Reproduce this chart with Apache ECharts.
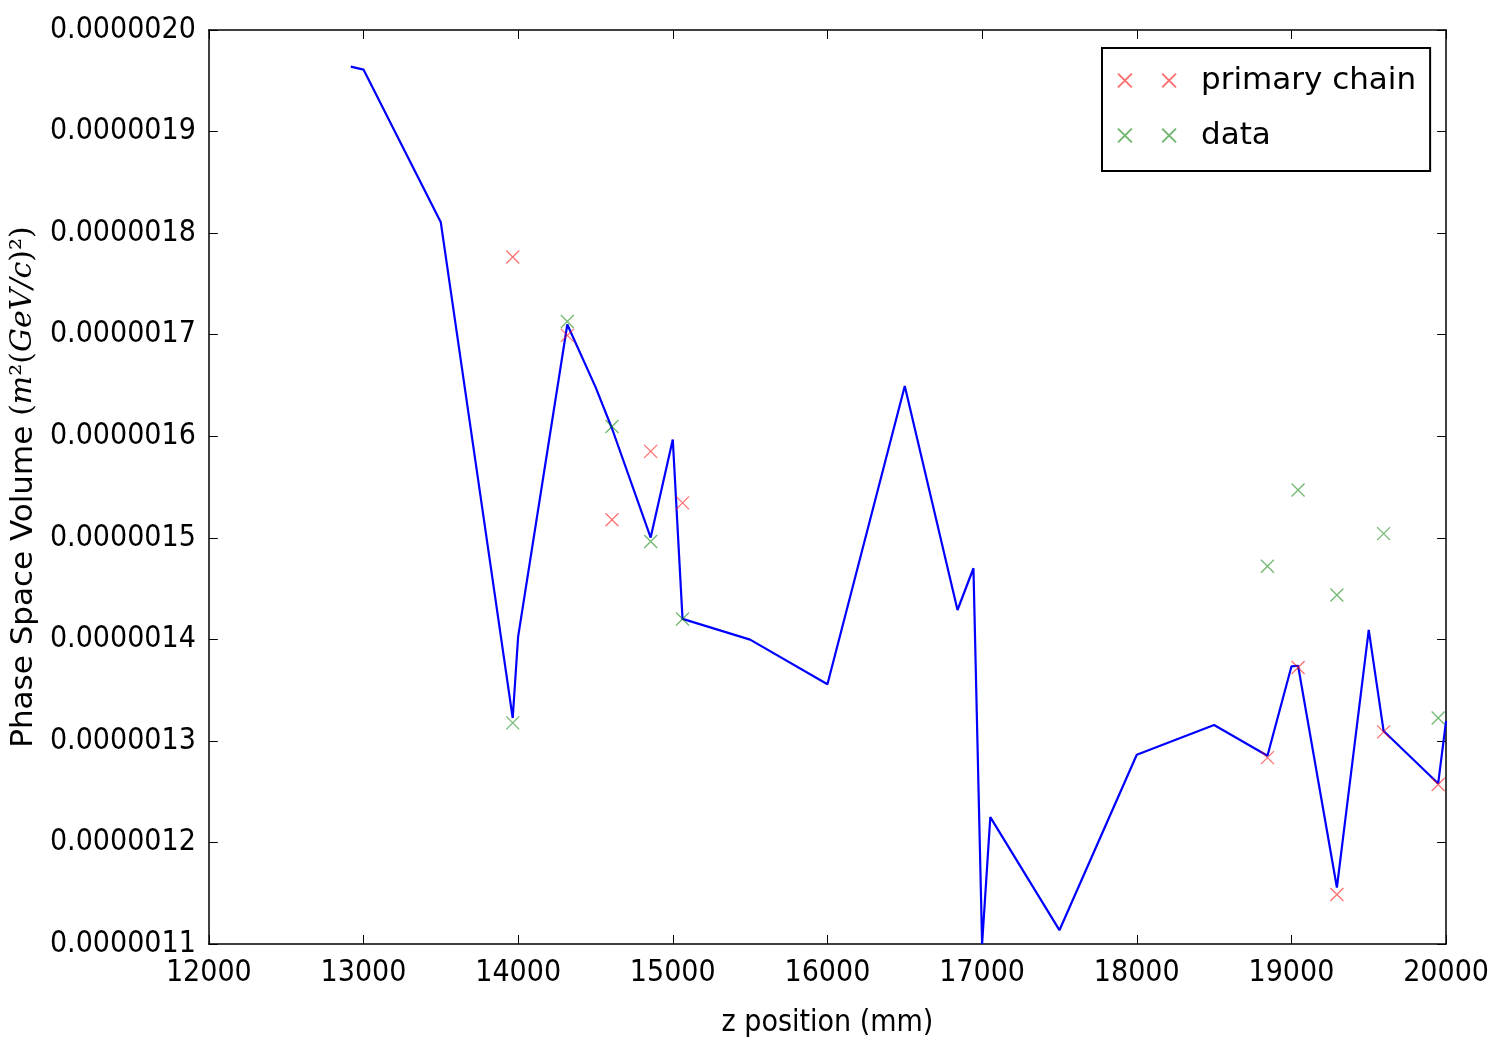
<!DOCTYPE html>
<html>
<head>
<meta charset="utf-8">
<title>Phase Space Volume vs z position</title>
<script src="https://cdn.jsdelivr.net/npm/echarts@6/dist/echarts.min.js"></script>
<style>
  html, body { margin: 0; padding: 0; background: #ffffff; }
  #chart { width: 1492px; height: 1043px; }
</style>
</head>
<body>
<div id="chart"></div>
<script>
// Tracked phase space volume along z (mm) -> m^2 (GeV/c)^2
const lineZ = [12918, 13000, 13500, 13965, 14000, 14318, 14500, 14607, 14857, 15000,
  15063, 15500, 16000, 16500, 16841, 16944, 17000, 17053, 17500, 18000,
  18500, 18845, 19000, 19043, 19294, 19500, 19596, 19949, 20000];
const lineVolume = [1.9639e-6, 1.9610e-6, 1.8106e-6, 1.3225e-6, 1.4026e-6, 1.7100e-6, 1.6486e-6, 1.6076e-6, 1.5002e-6, 1.5968e-6,
  1.4201e-6, 1.3997e-6, 1.3557e-6, 1.6495e-6, 1.4289e-6, 1.4700e-6, 1.1000e-6, 1.2249e-6, 1.1136e-6, 1.2864e-6,
  1.3157e-6, 1.2854e-6, 1.3733e-6, 1.3740e-6, 1.1556e-6, 1.4094e-6, 1.3098e-6, 1.2581e-6, 1.3196e-6];

// Measurement stations
const stationZ = [13965, 14318, 14607, 14857, 15063, 18845, 19043, 19294, 19596, 19949];
const primaryChainVolume = [1.7765e-6, 1.6993e-6, 1.5178e-6, 1.5851e-6, 1.5344e-6,
  1.2835e-6, 1.3723e-6, 1.1488e-6, 1.3089e-6, 1.2571e-6];
const dataVolume = [1.3177e-6, 1.7130e-6, 1.6095e-6, 1.4963e-6, 1.4201e-6,
  1.4719e-6, 1.5470e-6, 1.4436e-6, 1.5041e-6, 1.3225e-6];

const xTicks = { min: 12000, max: 20000, interval: 1000 };
const yTicks = { min: 0.0000011, max: 0.0000020, interval: 0.0000001 };

const seriesNames = ['primary chain', 'data'];

const crossSymbol = 'path://M0,0L10,10M10,0L0,10';
const doubleCross = 'path://M0,0L10,10M10,0L0,10M32,0L42,10M42,0L32,10';

const pair = (xs, ys) => xs.map((x, i) => [x, ys[i]]);

const narrowFamily = "'DejaVu Sans Condensed', 'Liberation Sans Narrow', 'Roboto Condensed', 'DejaVu Sans', sans-serif";
const tickFont = { fontFamily: narrowFamily, fontSize: 30, color: '#000' };
const frameLine = { show: true, lineStyle: { color: '#000', width: 1.5 } };
const innerTick = { show: true, inside: true, length: 9, lineStyle: { color: '#000', width: 1 } };

const chart = echarts.init(document.getElementById('chart'), null, { renderer: 'canvas' });
chart.setOption({
  backgroundColor: '#ffffff',
  animation: false,
  grid: { left: 202, right: 43, top: 30, bottom: 91, containLabel: false },
  legend: {
    data: seriesNames,
    orient: 'vertical',
    left: 1102,
    top: 48,
    padding: [17, 14, 20, 15],
    itemGap: 24,
    itemWidth: 58,
    itemHeight: 14,
    icon: doubleCross,
    backgroundColor: '#fff',
    borderColor: '#000',
    borderWidth: 2,
    borderRadius: 0,
    textStyle: { fontFamily: 'DejaVu Sans', fontSize: 31, color: '#000', padding: [0, 0, 0, 20] }
  },
  xAxis: [
    {
      type: 'value', position: 'bottom',
      min: xTicks.min, max: xTicks.max, interval: xTicks.interval,
      name: 'z position (mm)', nameLocation: 'middle', nameGap: 64,
      nameTextStyle: { fontFamily: narrowFamily, fontSize: 30, color: '#000' },
      axisLine: frameLine, axisTick: innerTick,
      axisLabel: Object.assign({ margin: 14, formatter: v => String(v) }, tickFont),
      splitLine: { show: false }
    },
    {
      type: 'value', position: 'top',
      min: xTicks.min, max: xTicks.max, interval: xTicks.interval,
      axisLine: frameLine, axisTick: innerTick,
      axisLabel: { show: false }, splitLine: { show: false }
    }
  ],
  yAxis: [
    {
      type: 'value', position: 'left',
      min: yTicks.min, max: yTicks.max, interval: yTicks.interval,
      name: '{t|Phase Space Volume }{p|(}{i|m}{p|²(}{i|GeV/c}{p|)²)}',
      nameLocation: 'middle', nameGap: 166, nameRotate: 90,
      nameTextStyle: {
        rich: {
          t: { fontFamily: 'DejaVu Sans', fontSize: 31, color: '#000' },
          p: { fontFamily: 'DejaVu Serif', fontSize: 30, color: '#000' },
          i: { fontFamily: 'DejaVu Serif', fontStyle: 'italic', fontSize: 30, color: '#000' }
        }
      },
      axisLine: frameLine, axisTick: innerTick,
      axisLabel: Object.assign({ margin: 13, formatter: v => v.toFixed(7) }, tickFont),
      splitLine: { show: false }
    },
    {
      type: 'value', position: 'right',
      min: yTicks.min, max: yTicks.max, interval: yTicks.interval,
      axisLine: frameLine, axisTick: innerTick,
      axisLabel: { show: false }, splitLine: { show: false }
    }
  ],
  series: [
    {
      name: 'simulation',
      type: 'line',
      data: pair(lineZ, lineVolume),
      showSymbol: false,
      symbol: 'none',
      clip: true,
      lineStyle: { color: '#0000ff', width: 2.2 },
      z: 2
    },
    {
      name: seriesNames[0],
      type: 'scatter',
      data: pair(stationZ, primaryChainVolume),
      symbol: crossSymbol,
      symbolSize: 13,
      itemStyle: { color: 'rgba(0,0,0,0)', borderColor: 'rgba(255,0,0,0.7)', borderWidth: 1.3 },
      z: 3
    },
    {
      name: seriesNames[1],
      type: 'scatter',
      data: pair(stationZ, dataVolume),
      symbol: crossSymbol,
      symbolSize: 13,
      itemStyle: { color: 'rgba(0,0,0,0)', borderColor: 'rgba(0,128,0,0.7)', borderWidth: 1.3 },
      z: 3
    }
  ]
});
</script>
</body>
</html>
